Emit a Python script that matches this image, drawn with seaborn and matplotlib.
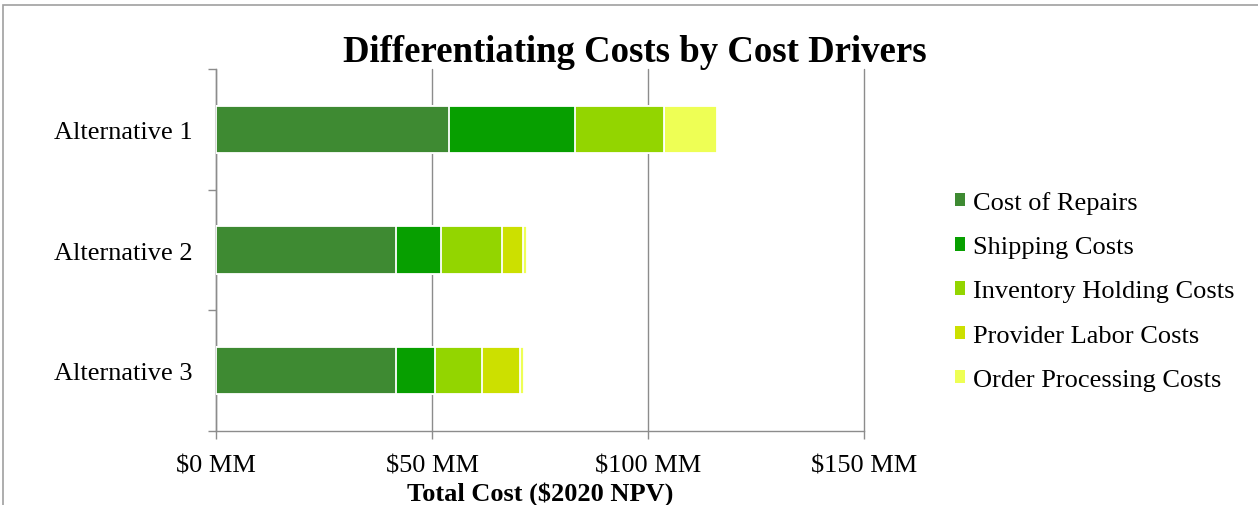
import numpy as np
import pandas as pd
import matplotlib
matplotlib.use('Agg')
import matplotlib.pyplot as plt
import seaborn as sns
from matplotlib.patches import Rectangle, Patch
from matplotlib.ticker import FuncFormatter, FixedLocator

# 数据 (单位: $MM)
alternatives = ['Alternative 1', 'Alternative 2', 'Alternative 3']
drivers = ['Cost of Repairs', 'Shipping Costs', 'Inventory Holding Costs',
           'Provider Labor Costs', 'Order Processing Costs']
cost_repairs = [54.0, 41.7, 41.7]
cost_shipping = [29.0, 10.4, 9.0]
cost_inventory = [20.6, 14.1, 10.9]
cost_labor = [0.0, 4.8, 8.8]
cost_order = [12.4, 0.9, 0.8]
x_ticks = [0, 50, 100, 150]

colors = ['#3E8A32', '#079F00', '#93D500', '#CCE000', '#EEFF55']

df = pd.DataFrame({
    'alternative': alternatives,
    drivers[0]: cost_repairs,
    drivers[1]: cost_shipping,
    drivers[2]: cost_inventory,
    drivers[3]: cost_labor,
    drivers[4]: cost_order,
})

sns.set_style('white')
plt.rcParams['font.family'] = ['Liberation Serif', 'DejaVu Serif']
plt.rcParams['text.color'] = 'black'
plt.rcParams['xtick.color'] = 'black'
plt.rcParams['ytick.color'] = 'black'
plt.rcParams['axes.labelcolor'] = 'black'

W, H = 1258, 506
fig = plt.figure(figsize=(W / 100, H / 100), dpi=100)
ax = fig.add_axes([216 / W, 1 - 432 / H, (864 - 216) / W, (432 - 70) / H])

# 堆叠: 先画累计最长的, 再依次覆盖较短的
cum = df[drivers].cumsum(axis=1)
for i in range(len(drivers) - 1, -1, -1):
    sns.barplot(x=cum[drivers[i]], y=df['alternative'], color=colors[i],
                orient='h', width=0.39, edgecolor='white', linewidth=1.3,
                saturation=1, ax=ax, zorder=3)

grey = '#8C8C8C'
ax.set_xlim(0, 150)
ax.set_ylim(2.5, -0.5)
ax.xaxis.set_major_locator(FixedLocator(x_ticks))
ax.xaxis.set_major_formatter(FuncFormatter(lambda v, p: f'${v:.0f} MM'))
ax.grid(axis='x', color=grey, linewidth=1, clip_on=False)
ax.set_axisbelow(True)
for s in ['top', 'right']:
    ax.spines[s].set_visible(False)
for s in ['left', 'bottom']:
    ax.spines[s].set_color(grey)
    ax.spines[s].set_linewidth(1)

ax.tick_params(axis='x', which='major', bottom=True, length=6, color=grey,
               width=1, labelsize=19, pad=11, labelcolor='black')
ax.tick_params(axis='y', which='major', left=True, length=0, labelsize=19,
               pad=17, labelcolor='black')
ax.yaxis.set_minor_locator(FixedLocator([-0.5, 0.5, 1.5, 2.5]))
ax.tick_params(axis='y', which='minor', left=True, length=6, color=grey,
               width=1)
ax.set_ylabel('')
ax.set_xlabel('Total Cost ($2020 NPV)', fontsize=19, fontweight='bold',
              labelpad=3, color='black')

fig.text(0.505, 1 - 52 / H, 'Differentiating Costs by Cost Drivers',
         ha='center', va='center', fontsize=26.5, fontweight='bold',
         color='black')

handles = [Patch(facecolor=c, edgecolor='none') for c in colors]
fig.legend(handles, drivers, loc='center left',
           bbox_to_anchor=(931 / W, 1 - 292 / H), frameon=False,
           fontsize=19, handlelength=0.4, handleheight=0.4,
           handletextpad=0.3, labelspacing=0.84, labelcolor='black')

# 外框
fig.patches.append(Rectangle((3 / W, -0.1), 1.1, 1 - 6 / H + 0.1,
                             transform=fig.transFigure, fill=False,
                             edgecolor='#A0A0A0', linewidth=1.2))

fig.savefig('out.png', dpi=100)
